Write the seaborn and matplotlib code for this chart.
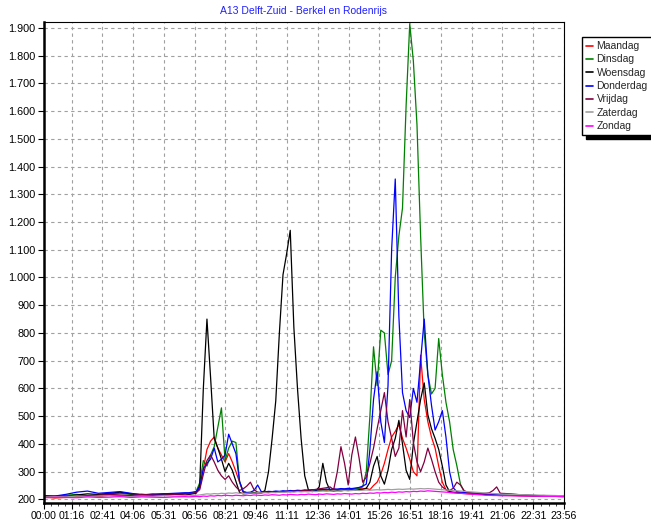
import pandas as pd
import matplotlib.pyplot as plt
import matplotlib.ticker as mticker
from matplotlib.lines import Line2D
import seaborn as sns

# Tijdas in minuten na middernacht (nacht en avond grover, overdag per 10 minuten)
minutes = [0, 30, 60, 90, 120, 150, 180, 210, 240, 270, 300, 330, 360, 390] \
    + list(range(400, 1261, 10)) + [1290, 1320, 1350, 1380, 1410, 1436]

days = ['Maandag', 'Dinsdag', 'Woensdag', 'Donderdag', 'Vrijdag', 'Zaterdag', 'Zondag']
colors = ['#ff0000', '#008000', '#000000', '#0000ff', '#800040', '#a0a0a0', '#ff00ff']

maandag = [208, 205, 207, 210, 212, 210, 215, 213, 212, 215, 214, 216, 218, 220,
           220, 222, 225, 240, 310, 380, 410, 425, 385, 360, 335, 365, 335, 300, 262,
           225, 222, 224, 223, 225, 224, 226, 225, 227, 226, 228, 227, 229, 228, 230,
           229, 231, 230, 232, 231, 233, 232, 234, 233, 235, 234, 236, 235, 237, 236,
           238, 237, 239, 238, 240, 235, 250, 262, 290, 330, 380, 425, 445, 470, 420,
           385, 345, 300, 285, 720, 560, 480, 425, 385, 320, 262, 235, 225, 224, 223,
           222, 221, 220, 220, 219, 218, 218, 217, 216, 216, 215, 215,
           214, 213, 212, 214, 212, 211]
dinsdag = [212, 210, 215, 218, 214, 216, 220, 222, 218, 216, 220, 218, 220, 222,
           222, 224, 228, 260, 340, 320, 360, 390, 460, 530, 340, 385, 410, 405, 265,
           228, 224, 222, 225, 224, 226, 225, 227, 226, 228, 227, 229, 228, 230, 229,
           231, 230, 232, 231, 233, 232, 234, 233, 235, 234, 236, 235, 237, 236, 238,
           237, 239, 240, 245, 300, 500, 750, 610, 810, 800, 650, 700, 1000, 1150, 1250,
           1620, 1915, 1780, 1550, 1150, 800, 650, 580, 600, 780, 650, 550, 480, 380, 322,
           255, 228, 224, 223, 222, 221, 220, 219, 219, 218, 218, 217,
           216, 215, 214, 213, 212, 212]
woensdag = [210, 212, 210, 216, 220, 218, 222, 226, 220, 218, 216, 220, 218, 220,
            218, 220, 222, 250, 600, 850, 640, 420, 385, 345, 300, 330, 305, 265, 225,
            220, 221, 223, 222, 224, 223, 232, 300, 420, 555, 800, 1010, 1085, 1170, 820,
            600, 420, 285, 235, 228, 230, 245, 330, 262, 232, 230, 232, 231, 233, 232,
            234, 233, 235, 236, 240, 262, 320, 355, 285, 255, 305, 380, 420, 485, 400,
            305, 272, 400, 480, 560, 620, 505, 455, 420, 380, 320, 252, 228, 226, 225,
            224, 223, 222, 221, 220, 219, 219, 218, 218, 217, 217, 216,
            215, 214, 213, 212, 211, 210]
donderdag = [214, 212, 218, 226, 230, 222, 225, 228, 222, 216, 218, 220, 222, 224,
             224, 226, 228, 245, 310, 330, 345, 385, 335, 345, 360, 435, 400, 365, 265,
             228, 225, 226, 232, 252, 228, 227, 229, 228, 230, 229, 231, 230, 232, 231,
             233, 232, 234, 233, 235, 234, 236, 235, 237, 236, 238, 237, 239, 238, 240,
             239, 241, 243, 248, 255, 380, 560, 660, 480, 405, 610, 1100, 1355, 860, 585,
             520, 495, 600, 550, 700, 850, 650, 540, 450, 480, 520, 425, 300, 242, 228,
             226, 225, 224, 223, 222, 221, 220, 220, 219, 219, 218, 218,
             217, 216, 214, 213, 212, 211]
vrijdag = [210, 208, 212, 214, 212, 215, 218, 216, 214, 218, 216, 215, 218, 220,
           220, 222, 224, 235, 290, 340, 360, 335, 305, 285, 272, 285, 262, 245, 232,
           238, 248, 262, 235, 226, 224, 226, 225, 227, 226, 228, 227, 229, 228, 230,
           229, 231, 232, 233, 234, 236, 238, 240, 242, 245, 235, 300, 390, 330, 252,
           360, 425, 350, 262, 280, 330, 385, 455, 520, 585, 480, 420, 355, 385, 520,
           425, 560, 405, 335, 300, 335, 385, 345, 300, 262, 245, 235, 232, 240, 262,
           252, 232, 225, 223, 222, 221, 221, 222, 224, 232, 245, 222,
           220, 216, 214, 213, 212, 211]
zaterdag = [208, 210, 209, 212, 210, 212, 213, 211, 210, 212, 211, 213, 212, 214,
            213, 214, 215, 216, 218, 220, 219, 221, 220, 222, 221, 223, 222, 224, 222,
            221, 222, 223, 222, 224, 223, 224, 223, 225, 224, 226, 225, 226, 227, 226,
            228, 227, 228, 227, 229, 228, 229, 230, 229, 230, 231, 230, 231, 232, 231,
            232, 233, 232, 233, 234, 233, 234, 235, 234, 235, 236, 235, 236, 237, 236,
            237, 238, 237, 238, 239, 238, 239, 238, 237, 236, 235, 234, 233, 232, 231,
            230, 229, 228, 227, 226, 225, 224, 223, 222, 221, 220, 219,
            218, 217, 216, 215, 214, 213]
zondag = [206, 208, 207, 206, 209, 207, 208, 210, 207, 209, 208, 207, 209, 210,
          209, 210, 211, 210, 212, 211, 213, 212, 214, 213, 215, 214, 213, 215, 214,
          213, 215, 214, 216, 215, 214, 216, 215, 217, 216, 215, 217, 216, 218, 217,
          216, 218, 217, 219, 218, 217, 219, 218, 220, 219, 218, 220, 219, 221, 220,
          219, 221, 220, 222, 221, 223, 222, 224, 223, 225, 224, 226, 225, 227, 226,
          228, 227, 229, 228, 230, 229, 231, 230, 229, 228, 227, 226, 225, 224, 223,
          222, 221, 220, 219, 218, 217, 216, 215, 215, 214, 214, 213,
          213, 212, 212, 211, 211, 210]

xtick_labels = ['00:00', '01:16', '02:41', '04:06', '05:31', '06:56', '08:21', '09:46',
                '11:11', '12:36', '14:01', '15:26', '16:51', '18:16', '19:41', '21:06',
                '22:31', '23:56']
ytick_values = [200, 300, 400, 500, 600, 700, 800, 900, 1000, 1100, 1200, 1300,
                1400, 1500, 1600, 1700, 1800, 1900]

series = [maandag, dinsdag, woensdag, donderdag, vrijdag, zaterdag, zondag]
frames = []
for day, vals in zip(days, series):
    frames.append(pd.DataFrame({'minuut': minutes, 'waarde': vals, 'dag': day}))
df = pd.concat(frames, ignore_index=True)

sns.set_style("white")
plt.rcParams['font.family'] = ['Liberation Sans', 'DejaVu Sans']

fig = plt.figure(figsize=(6.51, 5.24), dpi=100)
ax = fig.add_axes([44 / 651, 1 - 503 / 524, (564 - 44) / 651, (503 - 22) / 524])

sns.lineplot(data=df, x='minuut', y='waarde', hue='dag', hue_order=days,
             palette=dict(zip(days, colors)), linewidth=0.9,
             legend=False, ax=ax)

xticks = [int(s[:2]) * 60 + int(s[3:]) for s in xtick_labels]
ax.set_xticks(xticks)
ax.set_xticklabels(xtick_labels)
minor = []
for a, b in zip(xticks[:-1], xticks[1:]):
    minor += [a + (b - a) * k / 4 for k in (1, 2, 3)]
ax.set_xticks(minor, minor=True)
ax.set_yticks(ytick_values)
ax.yaxis.set_major_formatter(mticker.FuncFormatter(lambda v, p: f'{int(v):,}'.replace(',', '.')))
ax.set_xlim(0, 1436)
ax.set_ylim(187, 1921)

ax.grid(True, which='major', color='#a0a0a0', linestyle=(0, (3, 3)), linewidth=0.8)
ax.tick_params(axis='x', which='major', direction='out', length=4, width=0.8,
               labelsize=7.6, colors='black', pad=2, bottom=True)
ax.tick_params(axis='y', which='major', direction='out', length=4, width=0.8,
               labelsize=7.8, colors='black', pad=2, left=True)
ax.tick_params(axis='x', which='minor', direction='out', length=2, width=0.6, bottom=True)
for side in ['left', 'bottom']:
    ax.spines[side].set_linewidth(1.8)
    ax.spines[side].set_color('black')
for side in ['top', 'right']:
    ax.spines[side].set_linewidth(0.8)
    ax.spines[side].set_color('black')
ax.set_xlabel('')
ax.set_ylabel('')

fig.text(304 / 651, 1 - 11 / 524, 'A13 Delft-Zuid - Berkel en Rodenrijs', color='#2020ff',
         fontsize=7.5, ha='center', va='center')

handles = [Line2D([], [], color=c, linewidth=1.2) for c in colors]
fig.legend(handles, days, loc='upper left', bbox_to_anchor=(582 / 651, 1 - 37 / 524),
           borderaxespad=0, fontsize=7.5, handlelength=0.7, handletextpad=0.3,
           labelspacing=0.32, borderpad=0.4, frameon=True, fancybox=False,
           edgecolor='black', framealpha=1,
           shadow={'color': 'black', 'alpha': 1, 'ox': 3, 'oy': -3})

fig.savefig('out.png', dpi=100)
